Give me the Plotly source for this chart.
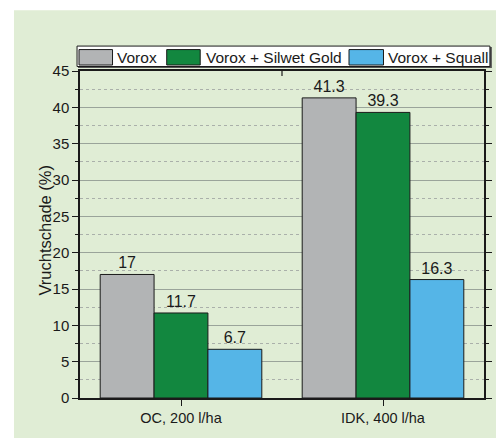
import plotly.graph_objects as go

categories = ["OC, 200 l/ha", "IDK, 400 l/ha"]
series_names = ["Vorox", "Vorox + Silwet Gold", "Vorox + Squall"]
vorox = [17, 41.3]
vorox_silwet = [11.7, 39.3]
vorox_squall = [6.7, 16.3]
series_values = [vorox, vorox_silwet, vorox_squall]
colors = ["#b2b4b5", "#12873f", "#55b5e7"]
y_title = "Vruchtschade (%)"

# the page body adds an 8px margin; design in screen pixels and shift
OFF = 8
W, H = 504 - OFF, 446 - 2 * OFF
PX0, PX1, PY0, PY1 = 80, 490, 71, 399  # plot area in screen pixels
L, R, T, B = PX0 - OFF, W - (PX1 - OFF), PY0 - OFF, H - (PY1 - OFF)
PW, PH = PX1 - PX0, PY1 - PY0


def xp(px):
    return (px - PX0) / PW


def yp(py):
    return (PY1 - py) / PH


BG = "#e0edd5"
FONT = "Liberation Sans, Arial, sans-serif"

fig = go.Figure()
for name, vals, col in zip(series_names, series_values, colors):
    fig.add_trace(go.Bar(
        x=categories, y=vals, name=name,
        marker=dict(color=col, line=dict(color="#1a1a1a", width=1)),
        text=[f"{v:g}" for v in vals], textposition="outside",
        textfont=dict(size=16, color="#1a1a1a", family=FONT),
        cliponaxis=False, showlegend=False,
    ))

shapes = [
    dict(type="rect", xref="paper", yref="paper", x0=xp(13), x1=xp(520),
         y0=yp(470), y1=yp(10), fillcolor=BG, line=dict(width=0), layer="below"),
    # mid tick on top axis
    dict(type="line", xref="paper", yref="paper", x0=0.5, x1=0.5, y0=1, y1=1 - 5 / PH,
         line=dict(color="#1a1a1a", width=1.2)),
    # legend shadow + box
    dict(type="rect", xref="paper", yref="paper", x0=xp(78), x1=xp(498), y0=yp(68), y1=yp(47),
         fillcolor="#555555", line=dict(width=0)),
    dict(type="rect", xref="paper", yref="paper", x0=xp(77), x1=xp(496), y0=yp(66.5), y1=yp(46),
         fillcolor="white", line=dict(color="#1a1a1a", width=1)),
]
annotations = [
    dict(xref="paper", yref="paper", x=xp(43.5), y=yp(231), text=y_title, textangle=-90,
         showarrow=False, xanchor="center", yanchor="middle",
         font=dict(size=16.5, color="#1a1a1a", family=FONT)),
]
swatches = [(79, 113, 116), (168, 202, 206), (353, 388, 391)]
for (s0, s1, tx), name, col in zip(swatches, series_names, colors):
    shapes.append(dict(type="rect", xref="paper", yref="paper", x0=xp(s0), x1=xp(s1),
                       y0=yp(65), y1=yp(49.5), fillcolor=col,
                       line=dict(color="#1a1a1a", width=1)))
    annotations.append(dict(xref="paper", yref="paper", x=xp(tx), y=yp(57), text=name,
                            showarrow=False, xanchor="left", yanchor="middle",
                            font=dict(size=15.5, color="#1a1a1a", family=FONT)))

fig.update_layout(
    width=W, height=H,
    margin=dict(l=L, r=R, t=T, b=B, pad=0),
    paper_bgcolor="white", plot_bgcolor=BG,
    barmode="group", bargap=0.2, bargroupgap=0,
    font=dict(family=FONT, size=14, color="#1a1a1a"),
    shapes=shapes, annotations=annotations,
    xaxis=dict(
        showline=True, linecolor="#1a1a1a", linewidth=1.5, mirror=True,
        ticks="outside", ticklen=6, tickcolor="#1a1a1a", tickwidth=1.2,
        showgrid=False, tickfont=dict(size=14.5), fixedrange=True,
    ),
    yaxis=dict(
        range=[0, 45], dtick=5, tick0=0,
        showline=True, linecolor="#1a1a1a", linewidth=1.5, mirror="ticks",
        ticks="outside", ticklen=6, tickcolor="#1a1a1a", tickwidth=1.2,
        showgrid=True, gridcolor="#9aa49a", gridwidth=1,
        zeroline=False,
        minor=dict(dtick=2.5, ticks="outside", ticklen=3, tickcolor="#1a1a1a",
                   showgrid=True, gridcolor="#aab0aa", griddash="dot", gridwidth=1),
        tickfont=dict(size=15), fixedrange=True,
    ),
)

fig.write_html("out.html")
